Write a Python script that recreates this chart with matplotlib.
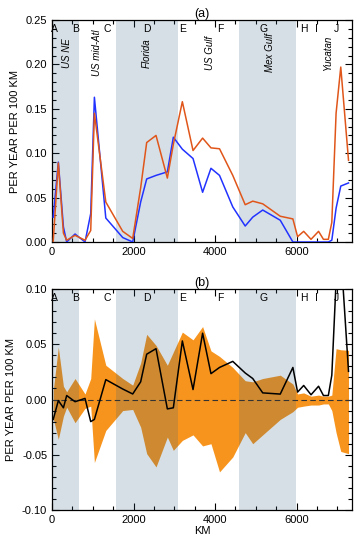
import numpy as np
import matplotlib
matplotlib.use('Agg')
import matplotlib.pyplot as plt
from matplotlib.ticker import MultipleLocator

plt.rcParams['font.family'] = ['Liberation Sans', 'DejaVu Sans']

# distance along coast (km)
km = [30, 155, 280, 360, 565, 810, 950, 1040, 1320, 1735, 1980, 2175, 2323, 2552,
      2830, 2977, 3198, 3460, 3695, 3900, 4110, 4435, 4740, 4925, 5170, 5600, 5910,
      6025, 6175, 6355, 6540, 6660, 6780, 6865, 6970, 7085, 7275]

# (a) rates
orange_rate = [0.001, 0.089, 0.010, 0.002, 0.0075, 0.002, 0.013, 0.145, 0.045, 0.012,
               0.004, 0.061, 0.112, 0.120, 0.072, 0.110, 0.158, 0.103, 0.117, 0.106,
               0.105, 0.075, 0.042, 0.046, 0.043, 0.029, 0.026, 0.006, 0.012, 0.003,
               0.012, 0.003, 0.003, 0.022, 0.145, 0.197, 0.092]
blue_rate = [0.028, 0.090, 0.017, 0.0, 0.009, 0.0, 0.032, 0.163, 0.027, 0.005,
             0.0, 0.045, 0.071, 0.075, 0.079, 0.118, 0.1045, 0.094, 0.056, 0.083,
             0.075, 0.0395, 0.018, 0.028, 0.036, 0.0245, 0.0, 0.0, 0.0, 0.0,
             0.0, 0.0, 0.0, 0.002, 0.038, 0.063, 0.0665]

# (b) difference and range
diff = [-0.018, -0.001, -0.0075, 0.0036, -0.002, 0.001, -0.020, -0.018, 0.018, 0.0095,
        0.005, 0.016, 0.041, 0.046, -0.0085, -0.0075, 0.053, 0.009, 0.060, 0.0234,
        0.029, 0.0345, 0.024, 0.019, 0.006, 0.0049, 0.029, 0.0067, 0.0127, 0.0043,
        0.012, 0.0036, 0.0036, 0.022, 0.107, 0.134, 0.0255]
band_hi = [0.008, 0.0475, 0.012, 0.007, 0.019, 0.005, 0.019, 0.073, 0.031, 0.019,
           0.013, 0.033, 0.059, 0.049, 0.031, 0.043, 0.061, 0.054, 0.066, 0.044,
           0.039, 0.029, 0.017, 0.016, 0.019, 0.022, 0.014, 0.005, 0.006, 0.003,
           0.004, 0.003, 0.003, 0.004, 0.046, 0.045, 0.0445]
band_lo = [-0.017, -0.036, -0.015, -0.007, -0.021, -0.008, -0.006, -0.057, -0.028, -0.010,
           -0.009, -0.025, -0.049, -0.061, -0.034, -0.046, -0.037, -0.032, -0.042, -0.040,
           -0.0655, -0.052, -0.030, -0.040, -0.032, -0.018, -0.011, -0.007, -0.006, -0.005,
           -0.005, -0.004, -0.004, -0.010, -0.030, -0.047, -0.049]

shaded = [(0, 670), (1565, 3100), (4600, 5980)]
letters = ['A', 'B', 'C', 'D', 'E', 'F', 'G', 'H', 'I', 'J']
letter_km = [50, 590, 1350, 2330, 3210, 4120, 5180, 6180, 6500, 6970]
regions = ['US NE', 'US mid-Atl', 'Florida', 'US Gulf', 'Mex Gulf', 'Yucatan']
region_km = [368, 1105, 2330, 3880, 5350, 6775]

fig = plt.figure(figsize=(3.55, 5.42), dpi=100)
ax1 = fig.add_axes([0.1465, 0.5535, 0.845, 0.4096])
ax2 = fig.add_axes([0.1465, 0.059, 0.845, 0.4078])


def style_axis(ax, ylim, title):
    ax.set_xlim(0, 7360)
    ax.set_ylim(*ylim)
    ax.xaxis.set_major_locator(MultipleLocator(2000))
    ax.xaxis.set_minor_locator(MultipleLocator(500))
    ax.yaxis.set_major_locator(MultipleLocator(0.05))
    ax.yaxis.set_minor_locator(MultipleLocator(0.01))
    ax.yaxis.set_major_formatter(plt.FormatStrFormatter('%.2f'))
    ax.tick_params(which='both', direction='in', top=True, right=True, labelsize=8, width=0.8)
    ax.tick_params(which='major', length=5)
    ax.tick_params(which='minor', length=3)
    ax.set_ylabel('PER YEAR PER 100 KM', fontsize=8)
    ax.set_title(title, fontsize=9, pad=2)
    for s in ax.spines.values():
        s.set_linewidth(0.9)
    for a, b in shaded:
        ax.axvspan(a, b, color=(0.2, 0.39, 0.51), alpha=0.2, lw=0, zorder=2)
    for lab, x in zip(letters, letter_km):
        ax.text(x, ylim[1] - 0.004 * (ylim[1] - ylim[0]) / 0.25, lab, ha='center', va='top',
                fontsize=7.5, zorder=5)


style_axis(ax1, (0, 0.25), '(a)')
ax1.plot(km, blue_rate, color='#2233ff', lw=1.1, zorder=3)
ax1.plot(km, orange_rate, color='#e0561a', lw=1.1, zorder=3)
for lab, x in zip(regions, region_km):
    ax1.text(x, 0.213, lab, rotation=90, ha='center', va='center', fontsize=7,
             style='italic', zorder=5)

style_axis(ax2, (-0.1, 0.1), '(b)')
ax2.fill_between(km, band_lo, band_hi, color='#f7941d', lw=0, zorder=1)
ax2.axhline(0, color='#333333', lw=0.8, ls=(0, (5, 3)), zorder=3)
ax2.plot(km, diff, color='black', lw=1.1, zorder=4)
ax2.set_xlabel('KM', fontsize=8, labelpad=1)

fig.savefig('out.png', dpi=100)
